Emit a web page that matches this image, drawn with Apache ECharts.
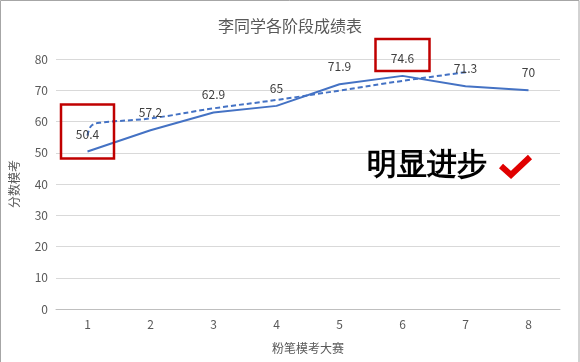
<!DOCTYPE html>
<html><head><meta charset="utf-8">
<script src="https://cdn.jsdelivr.net/npm/echarts@6/dist/echarts.min.js"></script>
<style>html,body{margin:0;padding:0;background:#fff}#c{width:580px;height:362px}</style>
</head><body><div id="c"></div>
<script>
var categories = ['1','2','3','4','5','6','7','8'];
var scores = [50.4, 57.2, 62.9, 65, 71.9, 74.6, 71.3, 70];
var trendX = [1.0, 1.06, 1.2, 2, 3, 4, 5, 6, 7.05];
var trendY = [55.5, 58.6, 59.6, 61, 64.2, 66.9, 69.9, 73, 75.9];
var yTicks = [0, 10, 20, 30, 40, 50, 60, 70, 80];

var trendData = trendX.map(function(x, i){ return [x, trendY[i]]; });
var font = '"Microsoft YaHei","Noto Sans CJK SC",sans-serif';
var chart = echarts.init(document.getElementById('c'));
chart.setOption({
  animation: false,
  title: {text: '李同学各阶段成绩表', left: 'center', top: 13,
    textStyle: {fontSize: 16, fontWeight: 'normal', color: '#595959', fontFamily: font}},
  grid: {left: 55, right: 20, top: 59, bottom: 53},
  xAxis: [{
    type: 'category', data: categories, boundaryGap: true,
    name: '粉笔模考大赛', nameLocation: 'middle', nameGap: 33,
    nameTextStyle: {fontSize: 12, color: '#595959', fontFamily: font},
    axisLine: {lineStyle: {color: '#bfbfbf'}},
    axisTick: {alignWithLabel: true, length: 5, lineStyle: {color: '#bfbfbf'}},
    axisLabel: {fontSize: 12, color: '#595959', margin: 9, fontFamily: font}
  }, {
    type: 'value', min: 0.5, max: 8.5, show: false
  }],
  yAxis: {
    type: 'value', min: yTicks[0], max: yTicks[yTicks.length-1], interval: 10,
    name: '分数模考', nameLocation: 'middle', nameGap: 36, nameRotate: 90,
    nameTextStyle: {fontSize: 12, color: '#595959', fontFamily: font},
    axisLine: {show: false}, axisTick: {show: false},
    axisLabel: {fontSize: 12, color: '#595959', margin: 8, fontFamily: font},
    splitLine: {lineStyle: {color: '#d9d9d9'}}
  },
  series: [{
    type: 'line', data: scores, xAxisIndex: 0, showSymbol: true, symbol: 'circle', symbolSize: 1,
    itemStyle: {color: 'rgba(68,114,196,0)', borderWidth: 0},
    lineStyle: {color: '#4472C4', width: 2},
    label: {show: true, position: 'top', distance: 11, fontSize: 12, color: '#404040', fontFamily: font},
    z: 3
  }, {
    type: 'line', data: trendData, xAxisIndex: 1, smooth: 0.4, symbol: 'none',
    lineStyle: {color: '#4472C4', width: 2, type: [5, 3]},
    z: 2
  }]
});

function box(idx, dy, w, h){
  var p = chart.convertToPixel({xAxisIndex: 0, yAxisIndex: 0}, [idx, scores[idx]]);
  return {type: 'rect', shape: {x: p[0] - w/2, y: p[1] - dy - h/2, width: w, height: h},
    style: {fill: 'none', stroke: '#C00000', lineWidth: 2.5}, z: 10};
}
chart.setOption({
  graphic: [
    {type: 'rect', shape: {x: 0.5, y: 0.5, width: 578.5, height: 370},
      style: {fill: 'none', stroke: '#a6a6a6', lineWidth: 1}, z: 0, silent: true},
    box(0, 20, 53, 54),
    box(5, 21, 54, 32),
    {type: 'text', left: 367, top: 151,
      style: {text: '明显进步', fontSize: 30, fontWeight: 'bold', fill: '#000', font: 'bold 30px ' + font}, z: 10},
    {type: 'polyline', shape: {points: [[501, 166], [511, 175], [530, 157]]},
      style: {stroke: '#E00000', lineWidth: 6, fill: 'none', lineJoin: 'miter', lineCap: 'butt'}, z: 10}
  ]
});
</script></body></html>
